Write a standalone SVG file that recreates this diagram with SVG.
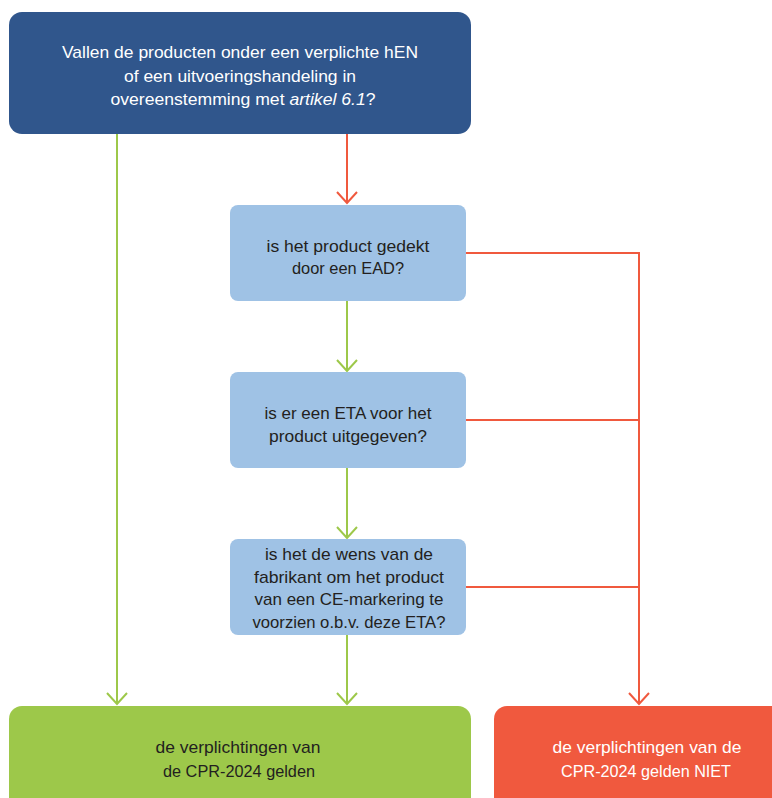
<svg xmlns="http://www.w3.org/2000/svg" width="772" height="798" viewBox="0 0 772 798">
<style>
text{font-family:"Liberation Sans",Arial,sans-serif;font-size:17px;text-anchor:middle}
.w{fill:#ffffff}
.d{fill:#231f20}
.g{stroke:#9dc84a;stroke-width:2;fill:none}
.r{stroke:#f0593e;stroke-width:2;fill:none}
</style>
<rect width="772" height="798" fill="#ffffff"/>
<g id="connectors">
<path class="g" d="M117 134V704"/>
<path class="g" d="M107 693L117 704L127 693"/>
<path class="r" d="M347 134V203"/>
<path class="r" d="M337 192L347 203L357 192"/>
<path class="g" d="M347 301V371"/>
<path class="g" d="M337 360L347 371L357 360"/>
<path class="g" d="M347 468V538"/>
<path class="g" d="M337 527L347 538L357 527"/>
<path class="g" d="M347 635V704"/>
<path class="g" d="M337 693L347 704L357 693"/>
<path class="r" d="M466 253H639V704"/>
<path class="r" d="M466 420H639"/>
<path class="r" d="M466 587H639"/>
<path class="r" d="M629 693L639 704L649 693"/>
</g>
<g id="q1">
<rect x="9" y="12" width="462" height="122" rx="13" fill="#30568c"/>
<text class="w" x="240" y="58" textLength="356" lengthAdjust="spacingAndGlyphs">Vallen de producten onder een verplichte hEN</text>
<text class="w" x="240" y="82" textLength="232" lengthAdjust="spacingAndGlyphs">of een uitvoeringshandeling in</text>
<text class="w" x="243" y="105" textLength="265" lengthAdjust="spacingAndGlyphs">overeenstemming met <tspan font-style="italic">artikel 6.1</tspan>?</text>
</g>
<g id="q2">
<rect x="230" y="205" width="236" height="96" rx="8" fill="#9fc2e5"/>
<text class="d" x="348" y="252" textLength="163" lengthAdjust="spacingAndGlyphs">is het product gedekt</text>
<text class="d" x="348" y="274" textLength="112" lengthAdjust="spacingAndGlyphs">door een EAD?</text>
</g>
<g id="q3">
<rect x="230" y="372" width="236" height="96" rx="8" fill="#9fc2e5"/>
<text class="d" x="348" y="419" textLength="167" lengthAdjust="spacingAndGlyphs">is er een ETA voor het</text>
<text class="d" x="348" y="442" textLength="158" lengthAdjust="spacingAndGlyphs">product uitgegeven?</text>
</g>
<g id="q4">
<rect x="230" y="539" width="236" height="96" rx="8" fill="#9fc2e5"/>
<text class="d" x="349" y="560" textLength="168" lengthAdjust="spacingAndGlyphs">is het de wens van de</text>
<text class="d" x="349" y="583" textLength="190" lengthAdjust="spacingAndGlyphs">fabrikant om het product</text>
<text class="d" x="349" y="605" textLength="189" lengthAdjust="spacingAndGlyphs">van een CE-markering te</text>
<text class="d" x="349" y="628" textLength="193" lengthAdjust="spacingAndGlyphs">voorzien o.b.v. deze ETA?</text>
</g>
<g id="yes">
<rect x="9" y="706" width="462" height="110" rx="13" fill="#9dc84a"/>
<text class="d" x="238" y="753" textLength="165" lengthAdjust="spacingAndGlyphs">de verplichtingen van</text>
<text class="d" x="239" y="777" textLength="152" lengthAdjust="spacingAndGlyphs">de CPR-2024 gelden</text>
</g>
<g id="no">
<rect x="494" y="706" width="306" height="110" rx="13" fill="#f0593e"/>
<text class="w" x="647" y="753" textLength="189" lengthAdjust="spacingAndGlyphs">de verplichtingen van de</text>
<text class="w" x="646" y="777" textLength="170" lengthAdjust="spacingAndGlyphs">CPR-2024 gelden NIET</text>
</g>
</svg>
